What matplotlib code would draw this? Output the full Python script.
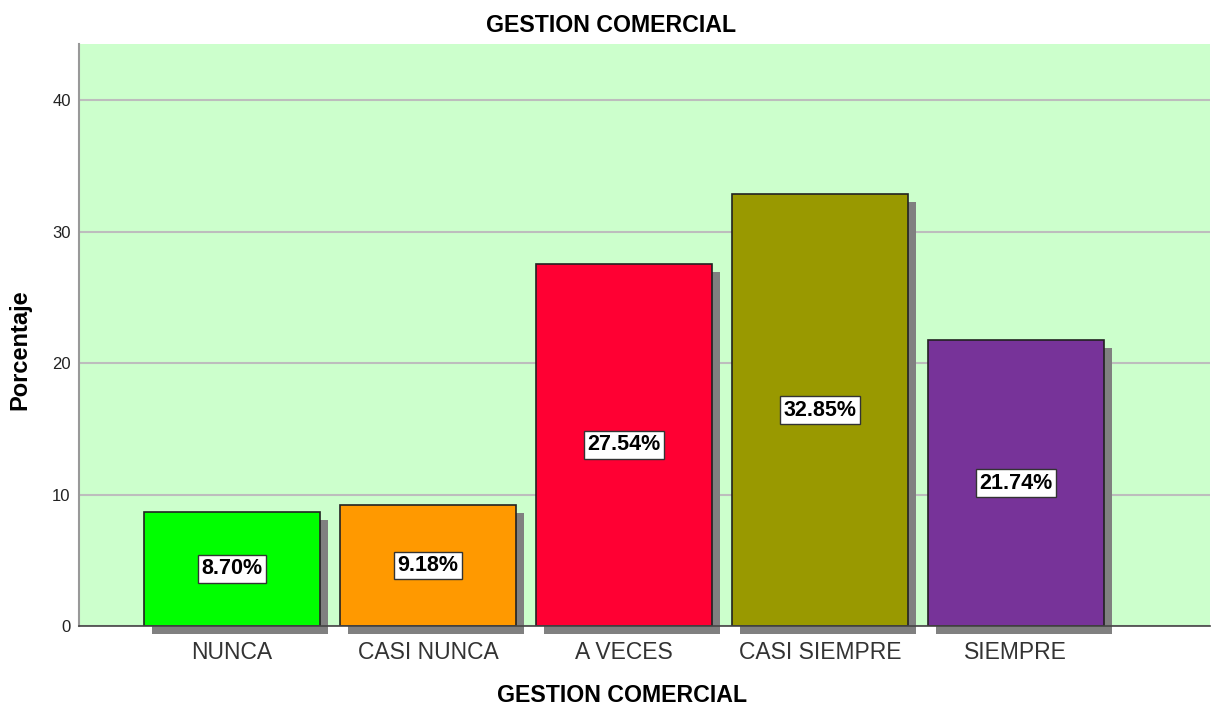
import numpy as np
import matplotlib.pyplot as plt
from matplotlib.patches import Rectangle

plt.rcParams['font.family'] = ['Liberation Sans', 'DejaVu Sans']

categories = ["NUNCA", "CASI NUNCA", "A VECES", "CASI SIEMPRE", "SIEMPRE"]
percentages = [8.70, 9.18, 27.54, 32.85, 21.74]
colors = ["#00ff00", "#ff9900", "#ff0033", "#999900", "#773399"]

fig = plt.figure(figsize=(12.12, 7.06), dpi=100)
ax = fig.add_axes([0.0652, 0.1133, 0.933, 0.8244])
ax.set_facecolor("#ccffcc")

x = np.arange(len(categories))
width = 0.898

# shadows first, offset a few pixels right/down
for xi, val in zip(x, percentages):
	dx = 8 / 196.0
	dy = 8 / 13.15
	sh = Rectangle((xi - width / 2 + dx, -dy), width, val, facecolor="#808080",
				   edgecolor="none", zorder=2, clip_on=False)
	ax.add_patch(sh)

ax.bar(x, percentages, width=width, color=colors, edgecolor="#222222", linewidth=1.2, zorder=3)

for xi, val in zip(x, percentages):
	ax.text(xi, val / 2, "%.2f%%" % val, ha="center", va="center", fontsize=15.5,
			fontweight="bold", color="black", zorder=5,
			bbox=dict(boxstyle="square,pad=0.15", facecolor="white", edgecolor="#333333", linewidth=1))

ax.set_xlim(-0.781, 4.99)
ax.set_ylim(0, 44.26)
ax.set_yticks([0, 10, 20, 30, 40])
ax.yaxis.grid(True, color="#bdbdbd", linewidth=1.5, zorder=1)
ax.set_axisbelow(True)
ax.set_xticks(x)
ax.set_xticklabels(categories, fontsize=16.5, color="#333333")
ax.tick_params(axis="x", length=0, pad=11)
ax.tick_params(axis="y", length=0, labelsize=12, pad=6, labelcolor="#222222")

for s in ["top", "right"]:
	ax.spines[s].set_visible(False)
ax.spines["left"].set_color("#999999")
ax.spines["left"].set_linewidth(1.5)
ax.spines["bottom"].set_color("#444444")
ax.spines["bottom"].set_linewidth(1.2)
ax.spines["bottom"].set_zorder(4)

fig.text(20 / 1212, 1 - 350 / 706, "Porcentaje", rotation=90, ha="center", va="center",
		 fontsize=17, fontweight="bold")
fig.text(622 / 1212, 1 - 696 / 706, "GESTION COMERCIAL", ha="center", va="center",
		 fontsize=16.7, fontweight="bold")
fig.text(611 / 1212, 1 - 25 / 706, "GESTION COMERCIAL", ha="center", va="center",
		 fontsize=16.7, fontweight="bold")

plt.savefig("out.png", dpi=100)
